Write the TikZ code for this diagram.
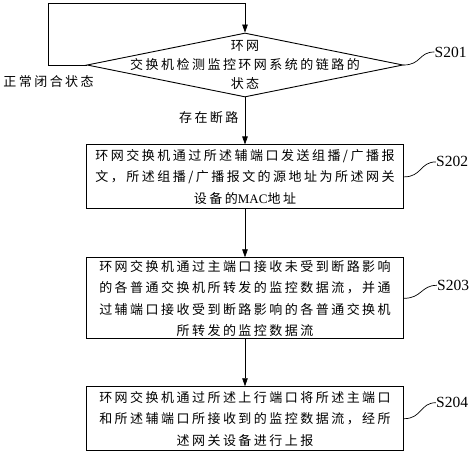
\documentclass[tikz,border=0pt]{standalone}
\usepackage{fontspec}
\setmainfont{Liberation Serif}
\newfontfamily\cjk[LetterSpace=19]{Noto Sans CJK SC}
\usetikzlibrary{positioning,arrows.meta,calc,shapes.geometric}

\begin{document}
\begin{tikzpicture}[x=1pt, y=-1pt,
    font=\cjk\fontsize{13}{21.5}\selectfont,
    arr/.style={-{Triangle[length=8pt,width=5.5pt]}, line width=0.7pt},
    decision/.style={diamond, draw, line width=0.9pt, minimum width=316pt,
      minimum height=64pt, inner sep=0pt},
    process/.style={draw, line width=0.9pt, minimum width=317pt,
      inner sep=2pt, align=center},
    steplabel/.style={font=\rmfamily\fontsize{15.5}{18}\selectfont,
      anchor=west, inner sep=0pt},
    node distance=47pt]
  \useasboundingbox (0,0) rectangle (474,450);

  % Decision
  \node[decision] (chk) at (245,65) {};
  \node[align=center, font=\cjk\fontsize{13}{19}\selectfont] (chktxt) at (chk.center)
    {环网\\交换机检测监控环网系统的链路的\\状态};

  % Steps
  \node[process, minimum height=64pt, below=of chk] (send)
    {环网交换机通过所述辅端口发送组播/广播报\\
     文，所述组播/广播报文的源地址为所述网关\\
     设备的{\rmfamily MAC}地址};
  \node[process, minimum height=81pt, below=48pt of send] (recv)
    {环网交换机通过主端口接收未受到断路影响\\
     的各普通交换机所转发的监控数据流，并通\\
     过辅端口接收受到断路影响的各普通交换机\\
     所转发的监控数据流};
  \node[process, minimum height=64pt, below=of recv] (report)
    {环网交换机通过所述上行端口将所述主端口\\
     和所述辅端口所接收到的监控数据流，经所\\
     述网关设备进行上报};

  % Loop back
  \coordinate (back) at ($(chk.west)+(-38,-62)$);
  \draw[arr] (chk.west) -| (back) -| (chk.north);
  \node (normal) at ($(chk.west)+(-38,17)$) {正常闭合状态};

  % Flow
  \draw[arr] (chk.south) -- (send.north);
  \node[anchor=east] (brk) at ($(chk.south)+(-3,20)$) {存在断路};
  \draw[arr] (send.south) -- (recv.north);
  \draw[arr] (recv.south) -- (report.north);

  % Step labels
  \node[steplabel] (s201) at ($(chk.east)+(31,-13)$) {S201};
  \node[steplabel] (s202) at ($(send.east)+(32,-15)$) {S202};
  \node[steplabel] (s203) at ($(recv.east)+(33,-13)$) {S203};
  \node[steplabel] (s204) at ($(report.east)+(32,-16)$) {S204};
  \foreach \a/\b in {chk.east/s201, send.east/s202, recv.east/s203, report.east/s204}
    \draw[line width=0.7pt] (\a) .. controls +(18,0) and +(-16,0) .. (\b.west);
\end{tikzpicture}
\end{document}
